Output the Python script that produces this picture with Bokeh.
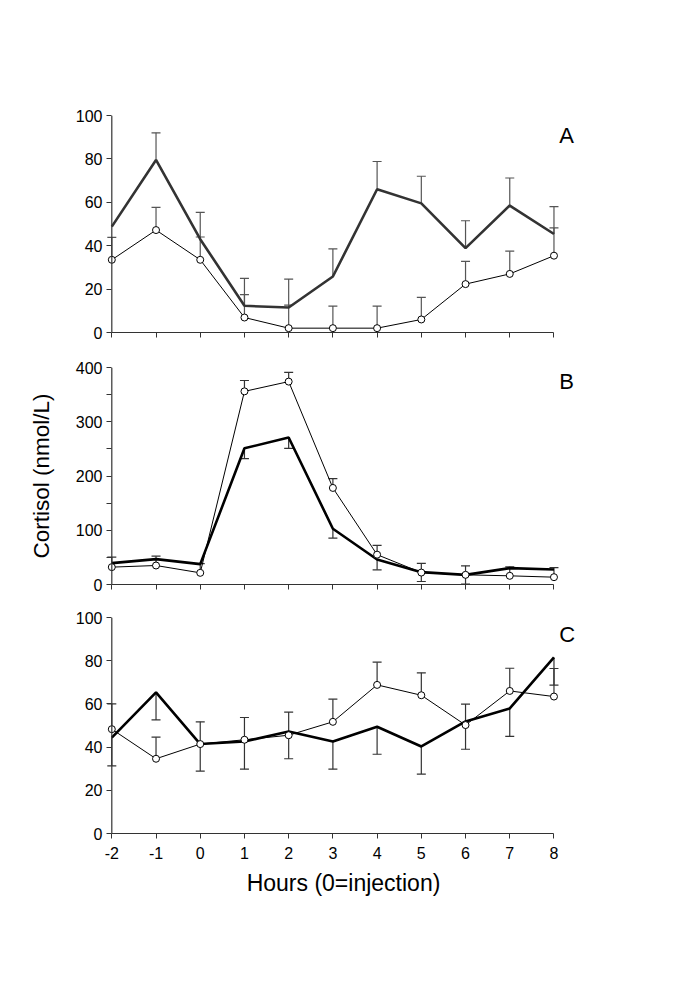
import numpy as np
from bokeh.plotting import figure
from bokeh.layouts import column
from bokeh.models import FixedTicker, Label, Span
from bokeh.embed import file_html
from bokeh.resources import INLINE

hours = [-2, -1, 0, 1, 2, 3, 4, 5, 6, 7, 8]
x_ticks = hours
x_tick_labels = ["-2", "-1", "0", "1", "2", "3", "4", "5", "6", "7", "8"]
nan = float("nan")

# Panel A
a_thick = [48.8, 79.5, 43.0, 12.3, 11.5, 25.8, 66.0, 59.5, 38.9, 58.5, 45.4]
a_thick_err = [nan, 12.5, 12.4, 12.6, 13.1, 12.7, 12.8, 12.5, 12.6, 12.7, 12.6]   # upward
a_open = [33.5, 47.2, 33.5, 6.9, 2.0, 2.0, 2.0, 6.0, 22.3, 27.0, 35.4]
a_open_err = [10.3, 10.5, 10.5, 10.6, 10.6, 10.2, 10.2, 10.2, 10.5, 10.5, 12.8]   # upward
a_yticks = [0, 20, 40, 60, 80, 100]

# Panel B
b_thick = [39.4, 46.8, 37.5, 251.0, 271.0, 102.8, 46.0, 22.8, 17.8, 30.2, 27.7]
b_thick_err = [nan, nan, nan, 19.0, 20.0, 17.3, 19.0, 17.3, 17.0, nan, nan]     # downward
b_open = [32.0, 35.0, 21.5, 356.0, 374.0, 178.0, 55.0, 22.0, 17.8, 16.0, 13.5]
b_open_err = [18.5, 17.3, 17.0, 20.0, 17.0, 17.0, 17.0, 16.8, 16.7, 16.6, 17.5]  # upward
b_yticks = [0, 100, 200, 300, 400]
b_yminor = [50, 150, 250, 350]

# Panel C
c_thick = [44.4, 65.3, 41.4, 42.6, 47.2, 42.6, 49.4, 40.3, 51.9, 57.9, 81.5]
c_thick_err = [13.1, 12.7, 12.5, 12.8, 12.6, 12.8, 12.7, 12.8, 12.9, 12.9, 12.8]  # downward
c_open = [48.3, 34.6, 41.4, 43.4, 45.5, 51.7, 68.8, 64.0, 50.2, 66.0, 63.4]
c_open_err = [11.7, 10.0, 10.3, 10.3, 10.7, 10.5, 10.5, 10.4, 9.7, 10.5, 13.0]   # upward
c_yticks = [0, 20, 40, 60, 80, 100]

panel_letters = ["A", "B", "C"]
x_label = "Hours (0=injection)"
y_label = "Cortisol (nmol/L)"

FONT = "Liberation Sans"
AXIS_COLOR = "#333333"


def errbars(p, y, err, sign, color):
    xs, y0, y1 = [], [], []
    for xi, yi, ei in zip(hours, y, err):
        if ei == ei:
            xs.append(xi)
            y0.append(yi)
            y1.append(yi + sign * ei)
    p.segment(x0=xs, y0=y0, x1=xs, y1=y1, line_color=color, line_width=1.2)
    p.scatter(x=xs, y=y1, marker="dash", size=9, line_color=color, line_width=1.2)


def panel(yr, yticks, ytop_border, bottom_border, frame_h, thick, thick_err, thick_sign,
          opn, opn_err, opn_sign, thick_color, err_color, letter, letter_y,
          minor=None, show_x_labels=False):
    p = figure(width=600, frame_width=474, frame_height=frame_h,
               x_range=(-2.12, 8.6), y_range=yr,
               min_border_left=106, min_border_right=10,
               min_border_top=ytop_border, min_border_bottom=bottom_border,
               output_backend="svg", toolbar_location=None)
    p.outline_line_color = None
    p.grid.visible = False
    p.background_fill_color = "white"
    p.border_fill_color = "white"

    # vertical axis line drawn at the first hour
    p.add_layout(Span(location=x_ticks[0], dimension="height",
                      line_color=AXIS_COLOR, line_width=1.2))

    errbars(p, thick, thick_err, thick_sign, err_color)
    errbars(p, opn, opn_err, opn_sign, err_color)
    p.line(hours, thick, line_color=thick_color, line_width=2.6)
    p.line(hours, opn, line_color="black", line_width=1.0)
    p.scatter(hours, opn, marker="circle", size=7, fill_color="white",
              line_color="black", line_width=1.0)

    # axes
    p.xaxis.ticker = FixedTicker(ticks=x_ticks)
    p.xaxis.bounds = (x_ticks[0], x_ticks[-1])
    if minor is not None:
        p.yaxis.ticker = FixedTicker(ticks=yticks, minor_ticks=minor)
    else:
        p.yaxis.ticker = FixedTicker(ticks=yticks)
    for ax in (p.xaxis, p.yaxis):
        ax.axis_line_color = AXIS_COLOR
        ax.axis_line_width = 1.2
        ax.major_tick_line_color = AXIS_COLOR
        ax.minor_tick_line_color = AXIS_COLOR
        ax.major_label_text_font = FONT
        ax.major_label_text_font_size = "16px"
        ax.major_label_text_color = "black"
    p.xaxis.major_tick_in = 0
    p.xaxis.major_tick_out = 5
    p.xaxis.minor_tick_in = 0
    p.xaxis.minor_tick_out = 0
    p.xaxis.major_label_standoff = 8
    p.yaxis.axis_line_color = None
    p.yaxis.major_tick_in = 5
    p.yaxis.major_tick_out = 0
    p.yaxis.minor_tick_in = 5 if minor is not None else 0
    p.yaxis.minor_tick_out = 0
    p.yaxis.major_label_standoff = 4
    if show_x_labels:
        p.xaxis.major_label_overrides = dict(zip(x_ticks, x_tick_labels))
    else:
        p.xaxis.major_label_overrides = {t: "" for t in x_ticks}
    p.add_layout(Label(x=8.12, y=letter_y, text=letter, text_font=FONT,
                       text_font_size="22px", text_color="black",
                       text_align="left", text_baseline="alphabetic"))
    return p


pA = panel((0, 100), a_yticks, 115, 20, 217, a_thick, a_thick_err, 1,
           a_open, a_open_err, 1, "#333333", "#555555", panel_letters[0], 90.9)
pB = panel((0, 400), b_yticks, 15, 18, 217, b_thick, b_thick_err, -1,
           b_open, b_open_err, 1, "black", "#333333", panel_letters[1], 373.7,
           minor=b_yminor)
pC = panel((0, 100), c_yticks, 15, 70, 216, c_thick, c_thick_err, -1,
           c_open, c_open_err, 1, "black", "#333333", panel_letters[2], 92.0,
           show_x_labels=True)

pB.yaxis.axis_label = y_label
pB.yaxis.axis_label_text_font = FONT
pB.yaxis.axis_label_text_font_size = "22.5px"
pB.yaxis.axis_label_text_font_style = "normal"
pB.yaxis.axis_label_text_color = "black"
pB.yaxis.axis_label_standoff = 19

pC.xaxis.axis_label = x_label
pC.xaxis.axis_label_text_font = FONT
pC.xaxis.axis_label_text_font_size = "23px"
pC.xaxis.axis_label_text_font_style = "normal"
pC.xaxis.axis_label_text_color = "black"
pC.xaxis.axis_label_standoff = 8

layout = column(pA, pB, pC, spacing=0)
open("out.html", "w").write(file_html(layout, INLINE))
